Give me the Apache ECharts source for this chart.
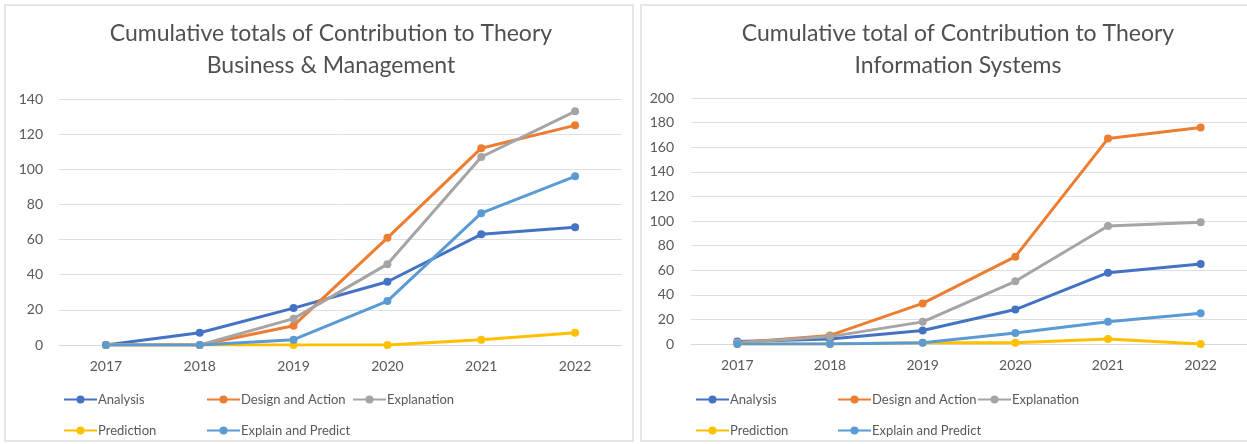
<!DOCTYPE html>
<html>
<head>
<meta charset="utf-8">
<script src="https://cdn.jsdelivr.net/npm/echarts@6/dist/echarts.min.js"></script>
<style>
  html, body { margin: 0; padding: 0; background: #fff; overflow: hidden; }
  #main { width: 1247px; height: 444px; }
</style>
</head>
<body>
<div id="main"></div>
<script>
// categories
var years = ['2017', '2018', '2019', '2020', '2021', '2022'];
var names = ['Analysis', 'Design and Action', 'Explanation', 'Prediction', 'Explain and Predict'];
var colors = ['#4472C4', '#ED7D31', '#A5A5A5', '#FFC000', '#5B9BD5'];

// Business & Management
var bmAnalysis = [0, 7, 21, 36, 63, 67];
var bmDesign = [0, 0, 11, 61, 112, 125];
var bmExplanation = [0, 0, 15, 46, 107, 133];
var bmPrediction = [0, 0, 0, 0, 3, 7];
var bmExplainPredict = [0, 0, 3, 25, 75, 96];

// Information Systems
var isAnalysis = [2, 4, 11, 28, 58, 65];
var isDesign = [1, 7, 33, 71, 167, 176];
var isExplanation = [1, 6, 18, 51, 96, 99];
var isPrediction = [0, 0, 1, 1, 4, 0];
var isExplainPredict = [0, 0, 1, 9, 18, 25];

var bmData = [bmAnalysis, bmDesign, bmExplanation, bmPrediction, bmExplainPredict];
var isData = [isAnalysis, isDesign, isExplanation, isPrediction, isExplainPredict];

var font = 'Lato, "Open Sans", sans-serif';
var txt = '#595959';

var chart = echarts.init(document.getElementById('main'));

function axes(idx, max, labelMargin) {
  return {
    x: {
      type: 'category', gridIndex: idx, data: years, boundaryGap: true,
      axisLine: { lineStyle: { color: '#d9d9d9', width: 1 } },
      axisTick: { show: false },
      axisLabel: { color: txt, fontSize: 14, fontFamily: font, margin: 14 }
    },
    y: {
      type: 'value', gridIndex: idx, min: 0, max: max, interval: 20,
      axisLine: { show: false }, axisTick: { show: false },
      splitLine: { lineStyle: { color: '#e0e0e0', width: 1 } },
      axisLabel: { color: txt, fontSize: 14, fontFamily: font, margin: labelMargin }
    }
  };
}

var a0 = axes(0, 140, 16);
var a1 = axes(1, 200, 17);

var series = [];
[bmData, isData].forEach(function (set, g) {
  set.forEach(function (vals, i) {
    series.push({
      name: names[i], type: 'line', xAxisIndex: g, yAxisIndex: g,
      data: vals, symbol: 'circle', symbolSize: 8,
      lineStyle: { width: 3, color: colors[i] },
      itemStyle: { color: colors[i] }
    });
  });
});

var legendPos = [
  [[63, 393], [206, 393], [352, 393], [63, 424], [206, 424]],
  [[695, 393], [837, 393], [977, 393], [695, 424], [837, 424]]
];
var legends = [];
legendPos.forEach(function (pos) {
  pos.forEach(function (p, i) {
    legends.push({
      data: [names[i]], left: p[0], top: p[1],
      itemWidth: 33, itemHeight: 10, padding: 0,
      textStyle: { color: txt, fontSize: 13, fontFamily: font, padding: [0, 0, 0, -4] }
    });
  });
});

var titleStyle = { color: '#505050', fontSize: 23, fontWeight: 'normal', fontFamily: font, lineHeight: 32 };

var option = {
  animation: false,
  color: colors,
  title: [
    {
      text: 'Cumulative totals of Contribution to Theory\nBusiness & Management',
      left: 326, top: 13, textAlign: 'center', textStyle: titleStyle
    },
    {
      text: 'Cumulative total of Contribution to Theory\nInformation Systems',
      left: 953, top: 13, textAlign: 'center', textStyle: titleStyle
    }
  ],
  legend: legends,
  grid: [
    { left: 59, top: 99, width: 563, height: 246 },
    { left: 691, top: 98, width: 556, height: 246 }
  ],
  xAxis: [a0.x, a1.x],
  yAxis: [a0.y, a1.y],
  series: series,
  graphic: [
    { type: 'rect', shape: { x: 5, y: 5, width: 628, height: 436 }, style: { fill: 'none', stroke: '#e6e6e6', lineWidth: 2 }, silent: true },
    { type: 'rect', shape: { x: 641, y: 5, width: 640, height: 436 }, style: { fill: 'none', stroke: '#e6e6e6', lineWidth: 2 }, silent: true }
  ]
};

chart.setOption(option);
</script>
</body>
</html>
